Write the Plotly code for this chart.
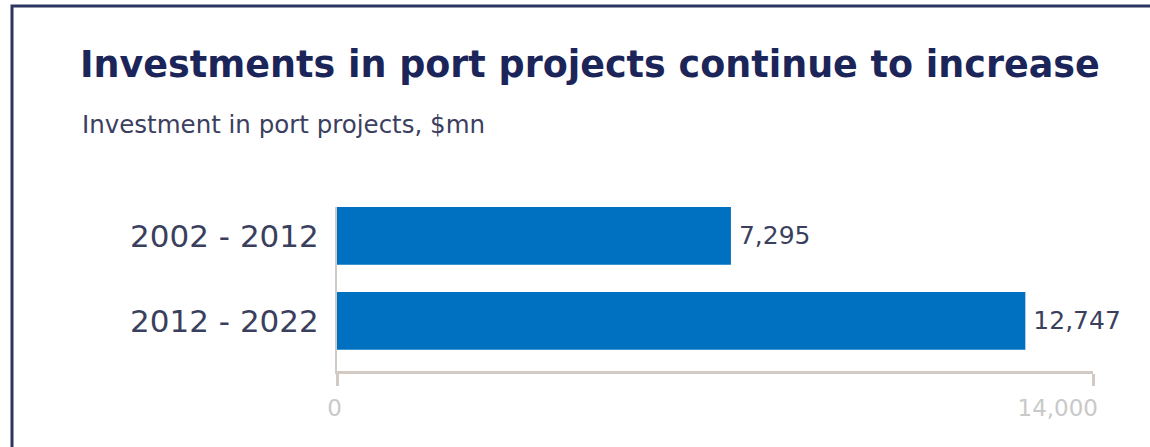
import plotly.graph_objects as go

categories = ["2002 - 2012", "2012 - 2022"]
values = [7295, 12747]
tick_vals = [0, 14000]
tick_text = ["0", "14,000"]

title_text = "Investments in port projects continue to increase"
subtitle_text = "Investment in port projects, $mn"

W, H = 1150, 447
L, R, T, B = 337, 1093, 207, 371
pw, ph = R - L, B - T

def px_x(p):
    return (p - L) / pw

def px_y(p):
    return (B - p) / ph

fig = go.Figure(
    go.Bar(
        x=values,
        y=categories,
        orientation="h",
        marker=dict(color="#0070C0", line=dict(width=0)),
        text=values,
        texttemplate="\u2009%{x:,}",
        textposition="outside",
        textfont=dict(family="DejaVu Sans", size=25, color="#3a3f5e"),
        cliponaxis=False,
        width=0.68,
    )
)

fig.update_layout(
    width=W,
    height=H,
    margin=dict(l=L, r=W - R, t=T, b=H - B),
    paper_bgcolor="white",
    plot_bgcolor="white",
    showlegend=False,
    title=dict(
        text="<b>" + title_text + "</b>",
        x=80 / W,
        xanchor="left",
        xref="container",
        y=1 - 64 / H,
        yanchor="middle",
        yref="container",
        font=dict(family="DejaVu Sans", size=36.5, color="#1b2559"),
    ),
    annotations=[
        dict(
            text=subtitle_text,
            xref="paper",
            yref="paper",
            x=px_x(80),
            y=px_y(124),
            xanchor="left",
            yanchor="middle",
            showarrow=False,
            font=dict(family="DejaVu Sans", size=24.5, color="#3c4060"),
        )
    ],
    shapes=[
        dict(
            type="rect",
            xref="paper",
            yref="paper",
            x0=px_x(12),
            x1=px_x(1300),
            y0=px_y(600),
            y1=px_y(6),
            line=dict(color="#2c3560", width=3),
            fillcolor="rgba(0,0,0,0)",
            layer="above",
        )
    ],
)

fig.update_xaxes(
    range=[0, 14000],
    tickvals=tick_vals,
    ticktext=tick_text,
    showgrid=False,
    zeroline=False,
    showline=True,
    linecolor="#d3cbc3",
    linewidth=3,
    ticks="outside",
    ticklen=12,
    tickwidth=3,
    tickcolor="#d3cbc3",
    ticklabelposition="outside left",
    ticklabelshift=8,
    ticklabelstandoff=14,
    tickfont=dict(family="DejaVu Sans", size=23, color="#c9c9c9"),
    fixedrange=True,
)

fig.update_yaxes(
    range=[1.59, -0.34],
    showgrid=False,
    zeroline=False,
    showline=True,
    linecolor="#d3cbc3",
    linewidth=2,
    ticks="",
    ticklabelstandoff=10,
    tickfont=dict(family="DejaVu Sans", size=31, color="#3a3f5e"),
    fixedrange=True,
)

fig.write_html(
    "out.html",
    config={"displayModeBar": False},
    post_script="document.body.style.margin='0';document.body.style.overflow='hidden';",
)
